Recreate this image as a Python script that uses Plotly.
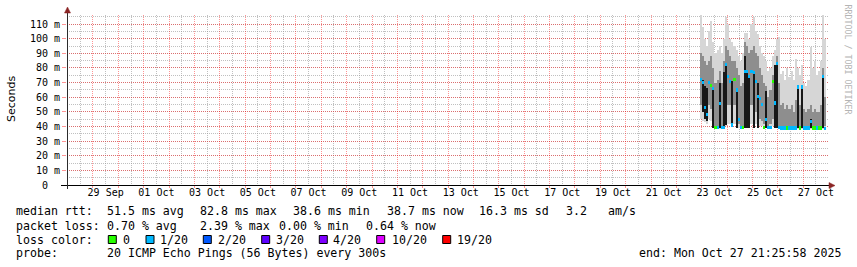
import pandas as pd
import plotly.graph_objects as go

# ---------------- data ----------------
end_text = "end: Mon Oct 27 21:25:58 2025"
x_range = ["2025-09-27 23:26:00", "2025-10-27 23:26:00"]
slot_start = "2025-10-22 22:00:00"      # first consolidated 2h column

label_dates = ["2025-09-29 12:00", "2025-10-01 12:00", "2025-10-03 12:00", "2025-10-05 12:00",
               "2025-10-07 12:00", "2025-10-09 12:00", "2025-10-11 12:00", "2025-10-13 12:00",
               "2025-10-15 12:00", "2025-10-17 12:00", "2025-10-19 12:00", "2025-10-21 12:00",
               "2025-10-23 12:00", "2025-10-25 12:00", "2025-10-27 12:00"]
label_text = ["29 Sep", "01 Oct", "03 Oct", "05 Oct", "07 Oct", "09 Oct", "11 Oct", "13 Oct",
              "15 Oct", "17 Oct", "19 Oct", "21 Oct", "23 Oct", "25 Oct", "27 Oct"]

y_tick_vals = [0, 10, 20, 30, 40, 50, 60, 70, 80, 90, 100, 110]
y_tick_text = ["0\u00a0\u00a0", "10 m", "20 m", "30 m", "40 m", "50 m", "60 m", "70 m",
               "80 m", "90 m", "100 m", "110 m"]

N = None
# smoke (ms) per 2-hour column
out_lo = [45, 44, 43, 42, 45, 44, 39, 38, 38, 38, 38, 38, 40, 42, 42, 40, 42, 39, 39, 38,
          38, 40, 42, 40, 42, 42, 42, 40, 40, 40, 39, 39, 38, 38, 40, 40, 40, 38, 38, 38,
          38, 38, 38, 38, 38, 38, 38, 38, 38, 38, 38, 38, 38, 38, 38, 38, 38, 38, 38, 38]
out_hi = [116, 108, 100, 95, 105, 112, 98, 90, 92, 95, 90, 100, 115, 110, 100, 98, 95, 92, 88, 85,
          90, 104, 104, 100, 110, 115, 105, 103, 95, 90, 88, 85, 78, 80, 88, 92, 100, 101, 76, 78,
          72, 80, 74, 78, 72, 86, 80, 75, 82, 70, 68, 72, 94, 80, 85, 75, 78, 85, 116, 100]
mid_lo = [55, 52, 48, 46, 55, 52, 42, 40, 40, 42, 40, 42, 50, 55, 55, 48, 55, 45, 42, 40,
          40, 50, 55, 52, 55, 55, 50, 48, 45, 44, 42, 42, 40, 42, 45, 48, 50, 40, 40, 40,
          40, 40, 40, 40, 40, 40, 42, 40, 42, 40, 40, 40, 40, 40, 40, 40, 40, 40, 42, 40]
mid_hi = [90, 88, 85, 82, 85, 88, 80, 70, 72, 78, 70, 85, 95, 92, 88, 85, 85, 80, 75, 68,
          70, 98, 95, 90, 92, 95, 90, 88, 80, 75, 70, 68, 60, 65, 75, 82, 88, 70, 55, 56,
          52, 55, 52, 55, 50, 58, 62, 55, 62, 52, 50, 52, 55, 50, 52, 50, 50, 55, 80, 60]
core_lo = [N, 50, 45, 44, N, N, 39, N, N, 39, N, 40, 41, N, N, 41, N, 39, N, N,
           N, 39, 39, 39, N, 39, N, 39, N, N, N, 39, N, N, N, 39, 39, N, N, N,
           N, N, N, N, N, N, 39, N, 39, N, N, N, 39, N, N, N, N, N, 39, N]
core_hi = [N, 72, 68, 66, N, N, 66, N, N, 70, N, 77, 82, N, N, 71, N, 65, N, N,
           N, 88, 78, 74, N, 77, N, 70, N, N, N, 64, N, N, N, 82, 83, N, N, N,
           N, N, N, N, N, N, 66, N, 67, N, N, N, 45, N, N, N, N, N, 74, N]
median = [72, 70, 53, 48, 70, 68, 66, 39.5, 39.5, 55.6, 39.5, 39.5, 82.6, 74, 71, 41, 72, 65, 45, 39.5,
          39.5, 77.6, 77.6, 74, 77.6, 77, 71, 60.5, 59, 55, 39.5, 45, 39.5, 39.5, 71, 56, 83, 39.5, 39, 39,
          39, 39, 39, 39, 39, 39, 67, 39, 67, 39, 39, 39, 43.5, 39, 39, 39, 39, 39, 74, 38.7]
loss = [1, 1, 1, 1, 1, 0, 1, 0, 1, 1, 1, 1, 1, 1, 1, 1, 0, 1, 1, 1,
        0, 1, 1, 1, 1, 1, 1, 1, 1, 1, 0, 1, 1, 1, 0, 1, 1, 1, 1, 1,
        1, 0, 1, 1, 1, 1, 1, 0, 1, 1, 1, 1, 1, 0, 0, 1, 0, 0, 1, 1]

loss_levels = [0, 1, 2, 3, 4, 10, 19]
loss_labels = ["0", "1/20", "2/20", "3/20", "4/20", "10/20", "19/20"]
loss_colors = ["#26ff00", "#00b8ff", "#0059ff", "#5e00ff", "#7e00ff", "#dd00ff", "#ff0000"]

rtt_items = ["51.5 ms avg", "82.8 ms max", "38.6 ms min", "38.7 ms now", "16.3 ms sd", "3.2", "am/s"]
loss_items = ["0.70 % avg", "2.39 % max", "0.00 % min", "0.64 % now"]
probe_text = "20 ICMP Echo Pings (56 Bytes) every 300s"

# ---------------- layout geometry ----------------
W, H = 857, 267
L, R, T, B = 67, 29, 15, 82
PW, PH = W - L - R, H - T - B
Y_MAX = 116.2


def px(xp):
    return (xp - L) / PW


def py(yp):
    return (H - B - yp) / PH


slot_ms = 2 * 3600 * 1000
times = pd.date_range(slot_start, periods=len(median), freq="2h") + pd.Timedelta(hours=1)


def seg(lo, hi):
    b, h = [], []
    for a, c in zip(lo, hi):
        if a is None or c is None:
            b.append(None); h.append(None)
        else:
            b.append(a); h.append(c - a)
    return b, h


fig = go.Figure()
for lo, hi, col in [(out_lo, out_hi, "#d6d6d6"), (mid_lo, mid_hi, "#8e8e8e"), (core_lo, core_hi, "#181818")]:
    b, h = seg(lo, hi)
    fig.add_trace(go.Bar(x=times, y=h, base=b, width=slot_ms, marker_color=col,
                         marker_line_width=0, showlegend=False, hoverinfo="skip"))


def loss_color(v):
    c = loss_colors[0]
    for lv, cc in zip(loss_levels, loss_colors):
        if v >= lv:
            c = cc
    return c


med_half = 1.1
fig.add_trace(go.Bar(x=times, y=[2 * med_half] * len(median), base=[m - med_half for m in median],
                     width=slot_ms, marker_color=[loss_color(v) for v in loss],
                     marker_line_width=0, showlegend=False, hoverinfo="skip"))
# dummy trace for label axis
fig.add_trace(go.Scatter(x=[label_dates[0]], y=[None], xaxis="x2", showlegend=False, hoverinfo="skip"))

PINK = "rgba(255,0,0,0.42)"
GRAY = "rgba(150,150,150,0.6)"
mono = "DejaVu Sans Mono"

fig.update_layout(
    width=W, height=H, margin=dict(l=L, r=R, t=T, b=B, pad=0),
    paper_bgcolor="white", plot_bgcolor="white", barmode="overlay", bargap=0,
    xaxis=dict(type="date", range=x_range, showgrid=True, gridcolor=PINK, griddash="1px,1px",
               gridwidth=1, tick0="2025-09-28", dtick=86400000, showticklabels=False,
               ticks="outside", ticklen=2, tickcolor=PINK, showline=False, zeroline=False,
               minor=dict(tick0="2025-09-28", dtick=43200000, showgrid=True, gridcolor=GRAY,
                          griddash="1px,1px", ticks="")),
    xaxis2=dict(type="date", range=x_range, overlaying="x", anchor="y", side="bottom",
                tickmode="array", tickvals=label_dates, ticktext=label_text, showgrid=False,
                ticks="", showline=False, zeroline=False,
                tickfont=dict(family=mono, size=10, color="black")),
    yaxis=dict(range=[0, Y_MAX], tickmode="array", tickvals=y_tick_vals, ticktext=y_tick_text,
               showgrid=True, gridcolor=PINK, griddash="1px,1px", zeroline=False, showline=False,
               ticks="outside", ticklen=4, tickcolor=PINK,
               tickfont=dict(family=mono, size=10, color="black"),
               minor=dict(tickmode="linear", tick0=0, dtick=5, showgrid=True, gridcolor=GRAY,
                          griddash="1px,1px", ticks="")),
)

shapes = []
AX = "#2b2b2b"
ARW = "#8a2525"
# x axis line + arrow
shapes.append(dict(type="line", xref="paper", yref="paper", x0=px(61), x1=px(830), y0=py(185.5), y1=py(185.5),
                   line=dict(color="black", width=1)))
shapes.append(dict(type="path", xref="paper", yref="paper",
                   path=f"M {px(829)},{py(182.5)} L {px(835)},{py(185.5)} L {px(829)},{py(188.5)} Z",
                   fillcolor=ARW, line=dict(color=ARW, width=0.5)))
# y axis line + arrow
shapes.append(dict(type="line", xref="paper", yref="paper", x0=px(67.5), x1=px(67.5), y0=py(189), y1=py(12),
                   line=dict(color=AX, width=1)))
shapes.append(dict(type="path", xref="paper", yref="paper",
                   path=f"M {px(64.5)},{py(13)} L {px(67.5)},{py(7)} L {px(70.5)},{py(13)} Z",
                   fillcolor=ARW, line=dict(color=ARW, width=0.5)))

ann = []
LF = dict(family=mono, size=11.6, color="black")


def txt(s, x, y, anchor="left", font=LF):
    ann.append(dict(text=s, x=px(x), y=py(y), xref="paper", yref="paper", xanchor=anchor,
                    yanchor="middle", showarrow=False, font=font, borderpad=0, borderwidth=0))


line_y = [211, 225.5, 239.5, 253.5]
txt("median rtt:", 16, line_y[0])
for s, x in zip(rtt_items, [107, 200, 293, 386.7, 479.3, 565.7, 608]):
    txt(s, x, line_y[0])
txt("packet loss:", 16, line_y[1])
for s, x in zip(loss_items, [107.3, 200, 279.3, 365.7]):
    txt(s, x, line_y[1])
txt("loss color:", 16, line_y[2])
box_x = [108.3, 146, 203.3, 261.7, 319.3, 376.7, 442.7]
lab_x = [123.3, 160, 218.3, 276, 333.3, 391.7, 456.7]
for bx, lx, lab, col in zip(box_x, lab_x, loss_labels, loss_colors):
    shapes.append(dict(type="rect", xref="paper", yref="paper", x0=px(bx), x1=px(bx + 8),
                       y0=py(235.5), y1=py(243.5), fillcolor=col, line=dict(color="black", width=1)))
    txt(lab, lx, line_y[2])
txt("probe:", 16, line_y[3])
txt(probe_text, 107.3, line_y[3])
txt(end_text, 841, line_y[3], anchor="right")

# y axis title and watermark
ann.append(dict(text="Seconds", x=px(11), y=py(99), xref="paper", yref="paper", textangle=-90,
                showarrow=False, font=dict(family="DejaVu Sans", size=11, color="black"),
                xanchor="center", yanchor="middle"))
ann.append(dict(text="RRDTOOL / TOBI OETIKER", x=px(847.5), y=py(60), xref="paper", yref="paper",
                textangle=90, showarrow=False, font=dict(family=mono, size=8.3, color="#b4b4b4"),
                xanchor="center", yanchor="middle"))

fig.update_layout(shapes=shapes, annotations=ann)
fig.write_html("out.html")
